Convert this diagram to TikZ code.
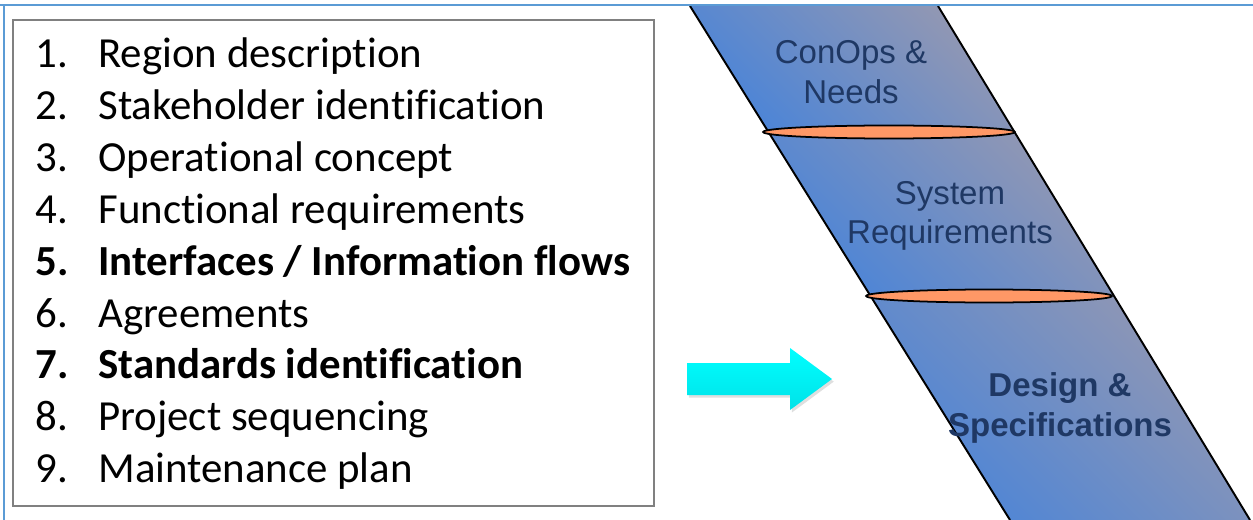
\documentclass[tikz,border=0pt]{standalone}
\usepackage{fontspec}
\setmainfont{Carlito}[Ligatures=NoCommon]
\newfontfamily\arialf{Liberation Sans}
\usetikzlibrary{shadows, positioning}
\definecolor{marco}{RGB}{91,155,213}
\definecolor{azulf}{RGB}{74,132,216}
\definecolor{grisf}{RGB}{148,152,178}
\definecolor{naranja}{RGB}{255,152,102}
\definecolor{textof}{RGB}{31,56,100}
\definecolor{cianclaro}{RGB}{0,255,255}
\definecolor{cianosc}{RGB}{0,226,232}
\tikzset{
    franja/.style={left color=azulf, right color=grisf, shading angle=135},
    junta/.style={draw=black, fill=naranja, line width=1pt},
    borde/.style={draw=black, line width=1.1pt},
    fase/.style={font=\arialf\fontsize{18.8}{22.6}\selectfont, text=textof, align=center},
    renglon/.style={anchor=base west, font=\fontsize{24.4}{29}\selectfont, inner sep=0pt},
}

\begin{document}
\begin{tikzpicture}[x=0.02cm, y=-0.02cm]
\useasboundingbox (0,0) rectangle (1253,520);

% Lista de pasos dentro del recuadro gris
\draw[gray, line width=1pt, fill=white, drop shadow={shadow xshift=0.6pt, shadow yshift=-0.6pt, opacity=0.35}] (13,20) rectangle (654,506);
\foreach \n/\txt/\serie [count=\i from 0] in {1/Region description/\mdseries,
    2/Stakeholder identification/\mdseries, 3/Operational concept/\mdseries,
    4/Functional requirements/\mdseries, 5/{Interfaces / Information flows}/\bfseries,
    6/Agreements/\mdseries, 7/Standards identification/\bfseries,
    8/Project sequencing/\mdseries, 9/Maintenance plan/\mdseries} {
    \node[renglon] (num\n) at (35,{68+51.8*\i}) {\serie\n.};
    \node[renglon] (paso\n) at (98,{68+51.8*\i}) {\serie\txt};
}

% Flecha cian
\shade[top color=cianclaro, bottom color=cianosc, drop shadow={shadow xshift=1pt, shadow yshift=-1.5pt, opacity=0.25}]
    (687,363) -- (790,363) -- (790,348) -- (832,379) -- (790,410) -- (790,395) -- (687,395) -- cycle;

% Franja inclinada: tres tramos sombreados
\shade[franja] (690,6) -- (938,6) -- (1014.5,132) -- (768.5,132) -- cycle;
\shade[franja] (768.5,132) -- (1014.5,132) -- (1114,296) -- (870.7,296) -- cycle;
\shade[franja] (870.7,296) -- (1114,296) -- (1250,520) -- (1010,520) -- cycle;
\draw[borde] (690,6) -- (1010,520);
\draw[borde] (938,6) -- (1250,520);

% Juntas naranjas entre tramos
\draw[junta] (889,132) ellipse [x radius=2.52cm, y radius=0.13cm];
\draw[junta] (989,296) ellipse [x radius=2.46cm, y radius=0.13cm];

\node[fase] (fase1) at (851,72) {ConOps \&\\Needs};
\node[fase] (fase2) at (950,216) {System\\Requirements};
\node[fase, font=\arialf\bfseries\fontsize{18.8}{22.6}\selectfont] (fase3) at (1060,408) {Design \&\\Specifications};

% Marco azul
\draw[marco, line width=1.2pt] (0,5) -- (1253,5);
\draw[marco, line width=1.2pt] (4,5) -- (4,520);
\end{tikzpicture}
\end{document}
